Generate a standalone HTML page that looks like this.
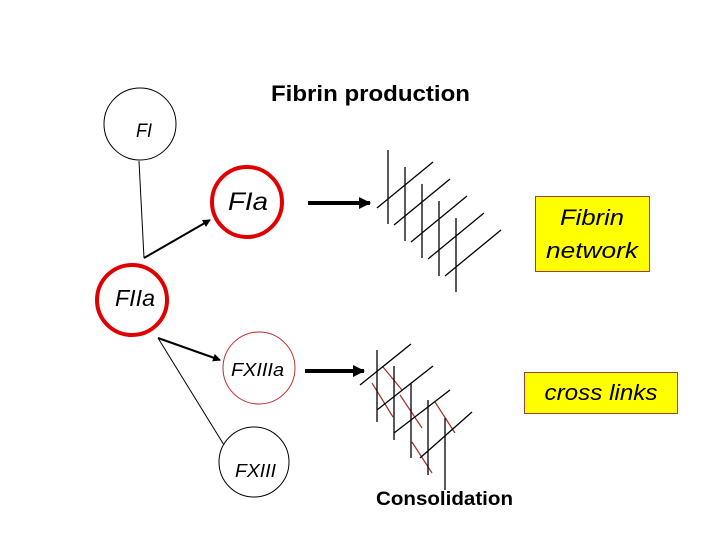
<!DOCTYPE html>
<html><head><meta charset="utf-8"><style>html,body{margin:0;padding:0;background:#fff}svg{display:block}</style></head>
<body>
<svg width="720" height="540" viewBox="0 0 720 540" xmlns="http://www.w3.org/2000/svg" font-family="Liberation Sans, sans-serif">
<defs>
<marker id="ah" markerWidth="8" markerHeight="8" refX="7" refY="4" orient="auto" markerUnits="userSpaceOnUse"><path d="M0,0 L8,4 L0,8 z" fill="#000"/></marker>
<marker id="ah2" markerWidth="12" markerHeight="12" refX="11" refY="6" orient="auto" markerUnits="userSpaceOnUse"><path d="M0,0 L12,6 L0,12 z" fill="#000"/></marker>
</defs>
<text x="271" y="101" font-size="22" font-weight="bold" textLength="199" lengthAdjust="spacingAndGlyphs">Fibrin production</text>
<!-- circles -->
<circle cx="140" cy="124" r="36" fill="#fff" stroke="#000" stroke-width="1"/>
<text x="136" y="137" font-size="19" font-style="italic" textLength="16" lengthAdjust="spacingAndGlyphs">FI</text>
<circle cx="247" cy="202" r="35" fill="#fff" stroke="#e00000" stroke-width="4"/>
<text x="228" y="210" font-size="25" font-style="italic" textLength="40" lengthAdjust="spacingAndGlyphs">FIa</text>
<circle cx="132" cy="300" r="35" fill="#fff" stroke="#e00000" stroke-width="4"/>
<text x="115" y="306" font-size="23" font-style="italic" textLength="40" lengthAdjust="spacingAndGlyphs">FIIa</text>
<circle cx="259" cy="368" r="36" fill="#fff" stroke="#c03030" stroke-width="1"/>
<text x="231" y="376" font-size="18" font-style="italic" textLength="53" lengthAdjust="spacingAndGlyphs">FXIIIa</text>
<circle cx="254" cy="462" r="35" fill="#fff" stroke="#000" stroke-width="1"/>
<text x="235" y="477" font-size="18" font-style="italic" textLength="41" lengthAdjust="spacingAndGlyphs">FXIII</text>
<!-- connectors -->
<line x1="139" y1="161" x2="144" y2="258" stroke="#000" stroke-width="1"/>
<line x1="144" y1="258" x2="210" y2="220" stroke="#000" stroke-width="2" marker-end="url(#ah)"/>
<line x1="158" y1="338" x2="220" y2="360" stroke="#000" stroke-width="2" marker-end="url(#ah)"/>
<line x1="158" y1="338" x2="224" y2="445" stroke="#000" stroke-width="1"/>
<!-- thick arrows -->
<line x1="308" y1="203" x2="370" y2="203" stroke="#000" stroke-width="4" marker-end="url(#ah2)"/>
<line x1="305" y1="371" x2="364" y2="371" stroke="#000" stroke-width="4" marker-end="url(#ah2)"/>
<!-- top network -->
<g stroke="#000" stroke-width="1.3">
<line x1="388" y1="150" x2="388" y2="224"/>
<line x1="405" y1="167" x2="405" y2="241"/>
<line x1="422" y1="184" x2="422" y2="258"/>
<line x1="439" y1="201" x2="439" y2="276"/>
<line x1="456" y1="218" x2="456" y2="292"/>
<line x1="377" y1="208" x2="433" y2="162"/>
<line x1="394" y1="225" x2="450" y2="179"/>
<line x1="411" y1="242" x2="467" y2="196"/>
<line x1="428" y1="259" x2="484" y2="213"/>
<line x1="445" y1="276" x2="501" y2="230"/>
</g>
<!-- bottom network -->
<g stroke="#a03030" stroke-width="1.2">
<line x1="372" y1="383" x2="393" y2="417"/>
<line x1="383" y1="367" x2="402" y2="390"/>
<line x1="400" y1="395" x2="422" y2="428"/>
<line x1="412" y1="442" x2="432" y2="473"/>
<line x1="435" y1="402" x2="455" y2="433"/>
</g>
<g stroke="#000" stroke-width="1.3">
<line x1="377" y1="350" x2="377" y2="422"/>
<line x1="394" y1="366" x2="394" y2="440"/>
<line x1="411" y1="383" x2="411" y2="458"/>
<line x1="428" y1="400" x2="428" y2="475"/>
<line x1="445" y1="418" x2="445" y2="490"/>
<line x1="360" y1="385" x2="411" y2="344"/>
<line x1="377" y1="410" x2="433" y2="366"/>
<line x1="394" y1="433" x2="450" y2="390"/>
<line x1="420" y1="458" x2="472" y2="412"/>
</g>
<text x="376" y="505" font-size="19" font-weight="bold" textLength="137" lengthAdjust="spacingAndGlyphs">Consolidation</text>
<!-- boxes -->
<rect x="535.5" y="196.5" width="114" height="75" fill="#ffff00" stroke="#a04040" stroke-width="1"/>
<text x="592" y="225" font-size="22" font-style="italic" text-anchor="middle" textLength="64" lengthAdjust="spacingAndGlyphs">Fibrin</text>
<text x="592" y="258" font-size="22" font-style="italic" text-anchor="middle" textLength="92" lengthAdjust="spacingAndGlyphs">network</text>
<rect x="524.5" y="372.5" width="153" height="41" fill="#ffff00" stroke="#a04040" stroke-width="1"/>
<text x="601" y="400" font-size="22" font-style="italic" text-anchor="middle" textLength="113" lengthAdjust="spacingAndGlyphs">cross links</text>
</svg>
</body></html>
